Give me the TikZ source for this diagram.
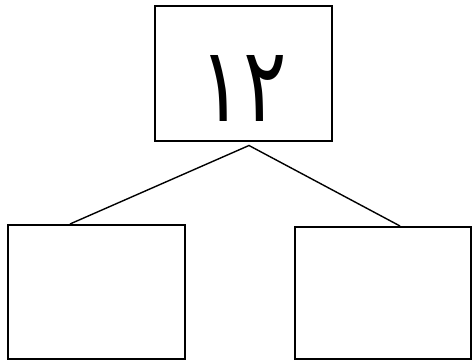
\documentclass[tikz,border=0pt]{standalone}
\usepackage{fontspec}
\newfontfamily\arabicfont[Script=Arabic]{DejaVu Sans}

\begin{document}
\begin{tikzpicture}[x=1pt,y=-1pt,
	box/.style={draw, line width=2pt, fill=white, inner sep=0pt}]
	\useasboundingbox (0,0) rectangle (472,361);
	% top box
	\node[box, minimum width=177pt, minimum height=135pt] (top) at (243.5,74)
		{\raisebox{-48pt}[0pt][0pt]{\scalebox{0.78}[1]{\arabicfont\fontsize{104}{104}\selectfont ١٢}}};
	% empty boxes below
	\node[box, minimum width=177pt, minimum height=134pt] (left) at (96.5,292) {};
	\node[box, minimum width=176pt, minimum height=132pt] (right) at (383,293) {};
	\coordinate (apex) at ([xshift=5.5pt,yshift=-3pt]top.south);
	\draw[line width=1.4pt] ([xshift=-26.5pt]left.north) -- (apex) -- ([xshift=17pt]right.north);
\end{tikzpicture}
\end{document}
